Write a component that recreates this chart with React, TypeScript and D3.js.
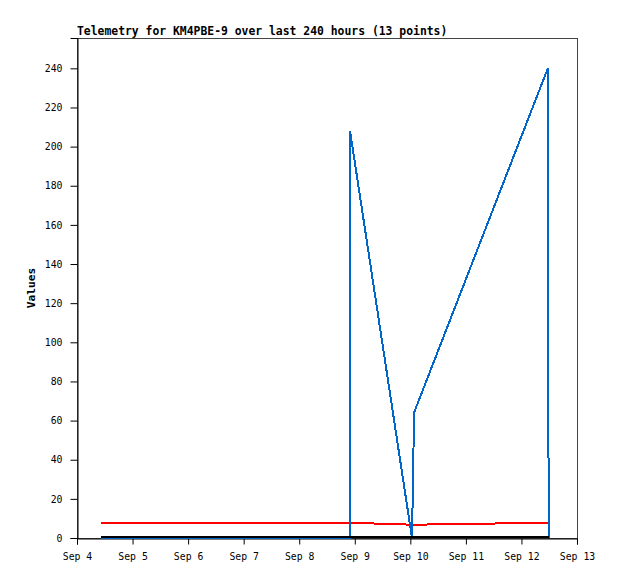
import React, { useEffect, useRef } from "react";
import * as d3 from "d3";

// day-of-September (fractional) for each of the 13 telemetry points
const pointDays = [4.432, 5.6, 6.7, 7.8, 8.2, 8.912, 8.915, 10.03, 10.05, 10.066, 12.475, 12.482, 12.49];
const blueValues = [0, 0, 0, 0, 0, 0, 208, 0, 32, 64, 240, 112, 0];
const redValues = [7.8, 7.8, 7.8, 7.8, 7.8, 7.8, 7.8, 6.8, 6.8, 6.8, 7.8, 7.8, 7.8];
const blackValues = [0, 0, 0, 0, 0, 0, 0, 0, 0, 0, 0, 0, 0];
const yTicks = [0, 20, 40, 60, 80, 100, 120, 140, 160, 180, 200, 220, 240];
const xTickDays = [4, 5, 6, 7, 8, 9, 10, 11, 12, 13];
const titleText = "Telemetry for KM4PBE-9 over last 240 hours (13 points)";
const yLabel = "Values";

const toDate = (d: number) => new Date(new Date(2024, 8, 1).getTime() + (d - 1) * 86400000);

export default function App() {
  const ref = useRef<SVGSVGElement>(null);
  useEffect(() => {
    const svg = d3.select(ref.current);
    svg.selectAll("*").remove();
    const left = 77, right = 577, top = 38, bottom = 538;
    const x = d3.scaleTime().domain([toDate(4), toDate(13)]).range([left, right]);
    const y = d3.scaleLinear().domain([0, 255.5]).range([bottom, top]);
    const mono = "'DejaVu Sans Mono', monospace";

    svg.append("rect").attr("width", 618).attr("height", 579).attr("fill", "#fff");
    // frame
    svg.append("rect").attr("x", left + 0.5).attr("y", top + 0.5)
      .attr("width", right - left).attr("height", bottom - top)
      .attr("fill", "none").attr("stroke", "#444").attr("stroke-width", 1);

    // title
    svg.append("text").attr("x", 77).attr("y", 35)
      .attr("font-family", mono).attr("font-weight", "bold").attr("font-size", 11.4)
      .attr("fill", "#000").text(titleText);

    // y axis
    const ya = svg.append("g").attr("transform", `translate(${left + 0.5},0)`)
      .call(d3.axisLeft(y).tickValues(yTicks).tickSize(7).tickPadding(8).tickFormat(d3.format("d")));
    ya.selectAll("text").attr("font-family", mono).attr("font-size", 9.8).attr("fill", "#000");
    ya.select(".domain").attr("stroke", "#000");

    // x axis
    const xa = svg.append("g").attr("transform", `translate(0,${bottom + 0.5})`)
      .call(d3.axisBottom(x).tickValues(xTickDays.map(d => toDate(d)))
        .tickSize(6).tickPadding(9).tickFormat((d: any) => d3.timeFormat("%b %-d")(d)));
    xa.selectAll("text").attr("font-family", mono).attr("font-size", 9.8).attr("fill", "#000");
    xa.select(".domain").attr("stroke", "#000");

    // y label
    svg.append("text").attr("transform", `translate(35,${(top + bottom) / 2}) rotate(-90)`)
      .attr("text-anchor", "middle")
      .attr("font-family", mono).attr("font-weight", "bold").attr("font-size", 11.2)
      .attr("fill", "#000").text(yLabel);

    const mk = (vals: number[]) => d3.line<number>()
      .x((_, i) => x(toDate(pointDays[i])))
      .y((v) => y(v))(vals);

    svg.append("path").attr("d", mk(redValues)).attr("fill", "none").attr("stroke", "#ff0000")
      .attr("stroke-width", 2).attr("shape-rendering", "crispEdges");
    svg.append("path").attr("d", mk(blueValues)).attr("fill", "none").attr("stroke", "#0066cc")
      .attr("stroke-width", 2).attr("shape-rendering", "crispEdges");
    svg.append("path").attr("d", mk(blackValues)).attr("fill", "none").attr("stroke", "#000")
      .attr("stroke-width", 2).attr("shape-rendering", "crispEdges").attr("transform", "translate(0,-1)");
  }, []);
  return (
    <svg ref={ref} width={618} height={579} style={{ position: "absolute", left: 0, top: 0 }} />
  );
}
